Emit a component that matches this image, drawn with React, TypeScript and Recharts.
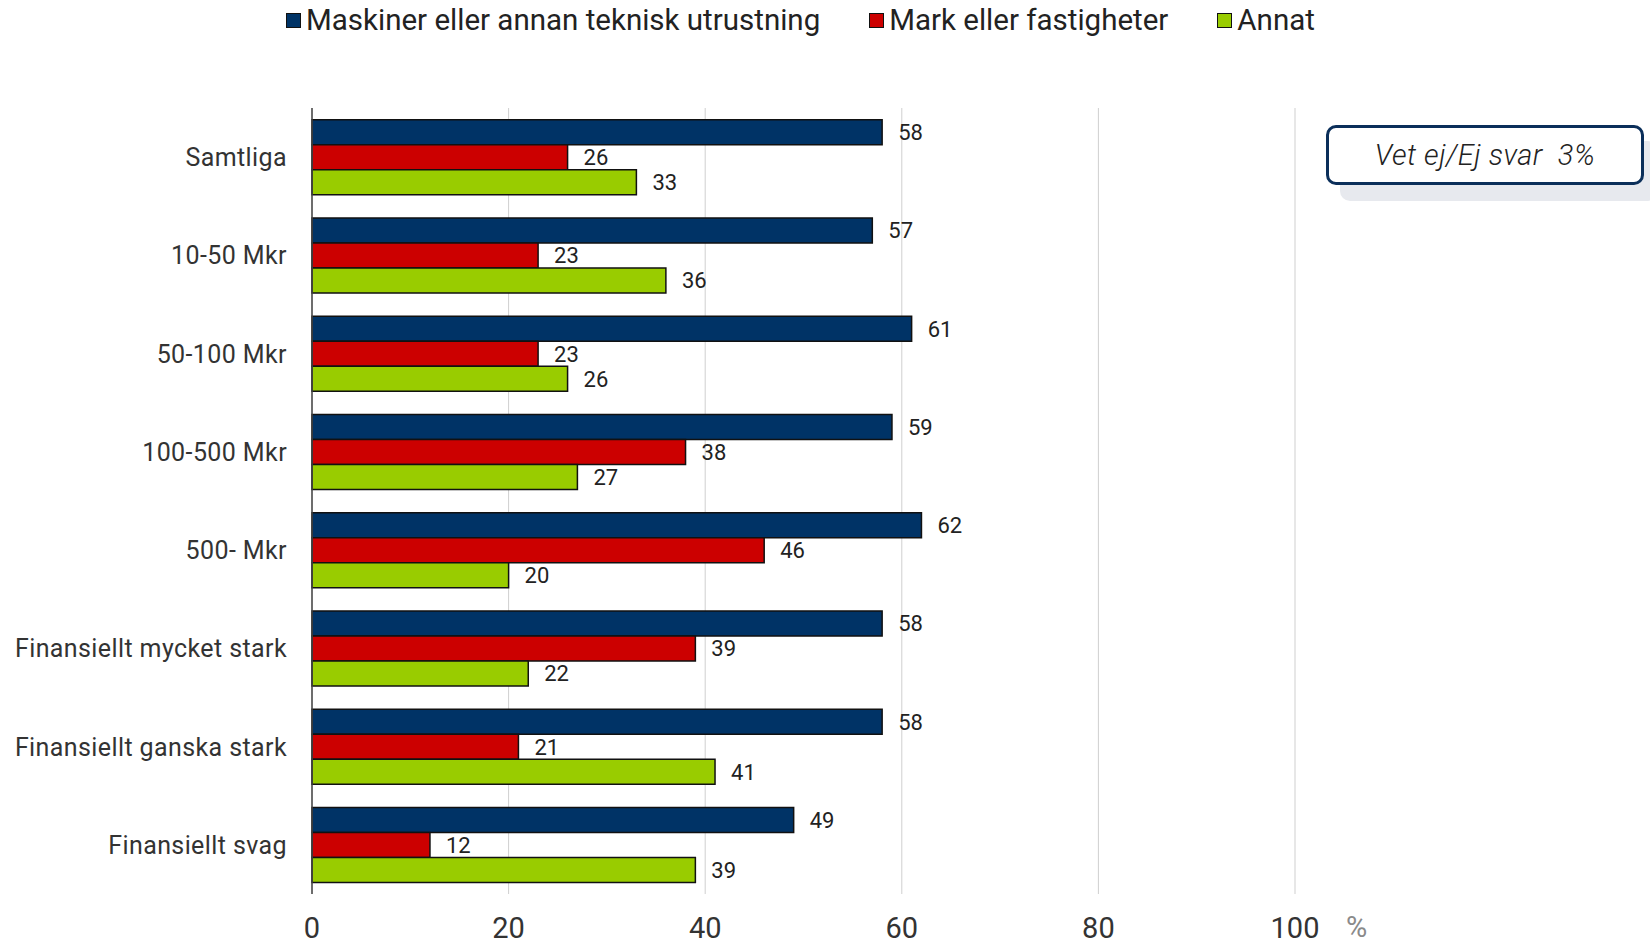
import { Bar, BarChart, CartesianGrid, LabelList, XAxis, YAxis } from "recharts";

const categories = [
  "Samtliga",
  "10-50 Mkr",
  "50-100 Mkr",
  "100-500 Mkr",
  "500- Mkr",
  "Finansiellt mycket stark",
  "Finansiellt ganska stark",
  "Finansiellt svag",
];

const maskiner = [58, 57, 61, 59, 62, 58, 58, 49];
const mark = [26, 23, 23, 38, 46, 39, 21, 12];
const annat = [33, 36, 26, 27, 20, 22, 41, 39];

const xTicks = [0, 20, 40, 60, 80, 100];

const series = [
  { key: "maskiner", name: "Maskiner eller annan teknisk utrustning", color: "#003366" },
  { key: "mark", name: "Mark eller fastigheter", color: "#cc0000" },
  { key: "annat", name: "Annat", color: "#99cc00" },
];

const data = categories.map((name, i) => ({
  name,
  maskiner: maskiner[i],
  mark: mark[i],
  annat: annat[i],
}));

const sans = 'Roboto, "Noto Sans", sans-serif';

function LegendRow() {
  return (
    <div
      style={{
        position: "absolute",
        left: 286,
        top: 3,
        display: "flex",
        alignItems: "center",
        fontFamily: sans,
        fontSize: 29.5,
        color: "#222",
      }}
    >
      {series.map((s, i) => (
        <div key={s.key} style={{ display: "flex", alignItems: "center", marginRight: i < series.length - 1 ? 49 : 0 }}>
          <span
            style={{
              display: "inline-block",
              width: 13,
              height: 13,
              background: s.color,
              border: "1.5px solid #111",
              marginRight: 5,
            }}
          />
          <span>{s.name}</span>
        </div>
      ))}
    </div>
  );
}

export default function App() {
  return (
    <div style={{ position: "absolute", left: 0, top: 0, width: 1650, height: 946, background: "#fff" }}>
      <BarChart
        width={1650}
        height={946}
        data={data}
        layout="vertical"
        margin={{ top: 108, right: 355, bottom: 0, left: 0 }}
        barCategoryGap="12%"
        barGap={0}
      >
        <CartesianGrid horizontal={false} stroke="#cfcfcf" />
        <XAxis
          type="number"
          domain={[0, 100]}
          ticks={xTicks}
          axisLine={false}
          tickLine={false}
          tickSize={0}
          tickMargin={23}
          height={52}
          tick={{ fontFamily: sans, fontSize: 29, fill: "#333" }}
        />
        <YAxis
          type="category"
          dataKey="name"
          width={312}
          axisLine={{ stroke: "#444", strokeWidth: 1.5 }}
          tickLine={false}
          tickSize={0}
          tickMargin={25}
          tick={{ fontFamily: sans, fontSize: 25, fill: "#333", letterSpacing: 0.4 }}
        />
        {series.map((s) => (
          <Bar
            key={s.key}
            dataKey={s.key}
            name={s.name}
            fill={s.color}
            stroke="#111"
            strokeWidth={1.5}
            isAnimationActive={false}
          >
            <LabelList
              dataKey={s.key}
              position="right"
              offset={16}
              style={{ fontFamily: sans, fontSize: 22, fill: "#222" }}
            />
          </Bar>
        ))}
      </BarChart>
      <LegendRow />
      <div
        style={{
          position: "absolute",
          left: 1346,
          top: 910,
          fontFamily: sans,
          fontSize: 29,
          color: "#8a8a8a",
        }}
      >
        %
      </div>
      <div
        style={{
          position: "absolute",
          left: 1326,
          top: 125,
          width: 312,
          height: 54,
          border: "3px solid #0b2f5a",
          borderRadius: 10,
          background: "#fff",
          boxShadow: "14px 16px 0 #e7e9ee",
          display: "flex",
          alignItems: "center",
          justifyContent: "center",
          fontFamily: sans,
          fontStyle: "italic",
          fontWeight: 300,
          fontSize: 29,
          letterSpacing: 0.5,
          color: "#222",
          whiteSpace: "pre",
        }}
      >
        {"Vet ej/Ej svar  3%"}
      </div>
    </div>
  );
}
